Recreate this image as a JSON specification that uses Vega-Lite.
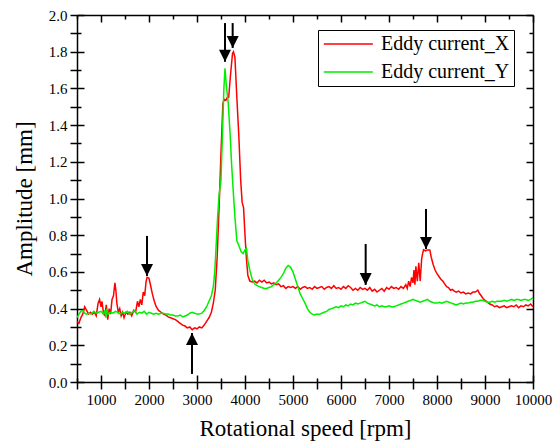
{
"$schema": "https://vega.github.io/schema/vega-lite/v6.json",
"width": 456, "height": 367,
"autosize": {"type": "none"},
"padding": {"left": 77, "top": 15, "right": 21, "bottom": 62},
"background": "white",
"config": {
 "view": {"stroke": null},
 "font": "Liberation Serif",
 "axis": {"grid": false, "domainColor": "black", "domainWidth": 1.5, "tickColor": "black", "tickWidth": 1.5, "labelColor": "black", "titleColor": "black", "labelFont": "Liberation Serif", "titleFont": "Liberation Serif", "labelFontSize": 15, "titleFontSize": 23, "titleFontWeight": "normal", "labelFlush": false, "labelOverlap": false, "gridColor": "black", "gridOpacity": 1, "gridWidth": 1.5},
 "legend": {"orient": "none", "legendX": 241, "legendY": 15, "strokeColor": "black", "strokeWidth": 1, "fillColor": "white", "padding": 4, "rowPadding": 8, "symbolType": "M-1,0L5,0", "symbolSize": 267, "symbolStrokeWidth": 1.5, "labelFont": "Liberation Serif", "labelFontSize": 20, "labelColor": "black", "labelOffset": 39, "labelLimit": 0}
},
"datasets": {
 "ex": [
{"rpm":500,"amp":0.33},{"rpm":540,"amp":0.32},{"rpm":580,"amp":0.35},{"rpm":620,"amp":0.37},{"rpm":660,"amp":0.41},{"rpm":700,"amp":0.39},{"rpm":740,"amp":0.37},{"rpm":780,"amp":0.38},{"rpm":820,"amp":0.37},{"rpm":860,"amp":0.38},{"rpm":900,"amp":0.36},{"rpm":940,"amp":0.43},{"rpm":970,"amp":0.45},{"rpm":1000,"amp":0.41},{"rpm":1020,"amp":0.44},{"rpm":1050,"amp":0.38},{"rpm":1080,"amp":0.36},{"rpm":1110,"amp":0.42},{"rpm":1140,"amp":0.34},{"rpm":1170,"amp":0.40},{"rpm":1200,"amp":0.37},{"rpm":1230,"amp":0.45},{"rpm":1260,"amp":0.47},{"rpm":1290,"amp":0.54},{"rpm":1310,"amp":0.50},{"rpm":1330,"amp":0.43},{"rpm":1360,"amp":0.38},{"rpm":1390,"amp":0.40},{"rpm":1420,"amp":0.36},{"rpm":1450,"amp":0.38},{"rpm":1480,"amp":0.35},{"rpm":1520,"amp":0.38},{"rpm":1560,"amp":0.37},{"rpm":1600,"amp":0.38},{"rpm":1640,"amp":0.36},{"rpm":1680,"amp":0.39},{"rpm":1720,"amp":0.38},{"rpm":1760,"amp":0.44},{"rpm":1790,"amp":0.41},{"rpm":1820,"amp":0.45},{"rpm":1850,"amp":0.42},{"rpm":1880,"amp":0.49},{"rpm":1910,"amp":0.47},{"rpm":1940,"amp":0.55},{"rpm":1960,"amp":0.57},{"rpm":2000,"amp":0.565},{"rpm":2030,"amp":0.53},{"rpm":2070,"amp":0.48},{"rpm":2110,"amp":0.44},{"rpm":2150,"amp":0.41},{"rpm":2200,"amp":0.39},{"rpm":2250,"amp":0.38},{"rpm":2300,"amp":0.37},{"rpm":2350,"amp":0.365},{"rpm":2400,"amp":0.355},{"rpm":2450,"amp":0.35},{"rpm":2500,"amp":0.345},{"rpm":2550,"amp":0.34},{"rpm":2600,"amp":0.33},{"rpm":2650,"amp":0.32},{"rpm":2700,"amp":0.31},{"rpm":2750,"amp":0.305},{"rpm":2800,"amp":0.295},{"rpm":2850,"amp":0.30},{"rpm":2900,"amp":0.285},{"rpm":2950,"amp":0.295},{"rpm":3000,"amp":0.29},{"rpm":3050,"amp":0.30},{"rpm":3100,"amp":0.295},{"rpm":3150,"amp":0.31},{"rpm":3200,"amp":0.33},{"rpm":3250,"amp":0.35},{"rpm":3300,"amp":0.38},{"rpm":3340,"amp":0.43},{"rpm":3380,"amp":0.50},{"rpm":3420,"amp":0.68},{"rpm":3460,"amp":0.95},{"rpm":3500,"amp":1.25},{"rpm":3540,"amp":1.52},{"rpm":3570,"amp":1.54},{"rpm":3600,"amp":1.535},{"rpm":3630,"amp":1.55},{"rpm":3660,"amp":1.55},{"rpm":3700,"amp":1.68},{"rpm":3740,"amp":1.79},{"rpm":3760,"amp":1.80},{"rpm":3790,"amp":1.77},{"rpm":3830,"amp":1.55},{"rpm":3870,"amp":1.35},{"rpm":3910,"amp":1.10},{"rpm":3940,"amp":0.98},{"rpm":3970,"amp":0.95},{"rpm":4000,"amp":0.80},{"rpm":4030,"amp":0.67},{"rpm":4060,"amp":0.58},{"rpm":4100,"amp":0.55},{"rpm":4150,"amp":0.545},{"rpm":4200,"amp":0.55},{"rpm":4250,"amp":0.54},{"rpm":4300,"amp":0.555},{"rpm":4350,"amp":0.545},{"rpm":4400,"amp":0.555},{"rpm":4450,"amp":0.54},{"rpm":4500,"amp":0.545},{"rpm":4550,"amp":0.535},{"rpm":4600,"amp":0.54},{"rpm":4650,"amp":0.53},{"rpm":4700,"amp":0.535},{"rpm":4750,"amp":0.52},{"rpm":4800,"amp":0.525},{"rpm":4850,"amp":0.51},{"rpm":4900,"amp":0.52},{"rpm":4950,"amp":0.515},{"rpm":5000,"amp":0.52},{"rpm":5050,"amp":0.51},{"rpm":5100,"amp":0.52},{"rpm":5150,"amp":0.505},{"rpm":5200,"amp":0.515},{"rpm":5250,"amp":0.52},{"rpm":5300,"amp":0.51},{"rpm":5350,"amp":0.515},{"rpm":5400,"amp":0.505},{"rpm":5450,"amp":0.52},{"rpm":5500,"amp":0.51},{"rpm":5550,"amp":0.515},{"rpm":5600,"amp":0.52},{"rpm":5650,"amp":0.505},{"rpm":5700,"amp":0.515},{"rpm":5750,"amp":0.52},{"rpm":5800,"amp":0.51},{"rpm":5850,"amp":0.525},{"rpm":5900,"amp":0.51},{"rpm":5950,"amp":0.515},{"rpm":6000,"amp":0.505},{"rpm":6050,"amp":0.52},{"rpm":6100,"amp":0.51},{"rpm":6150,"amp":0.525},{"rpm":6200,"amp":0.515},{"rpm":6250,"amp":0.50},{"rpm":6300,"amp":0.51},{"rpm":6350,"amp":0.50},{"rpm":6400,"amp":0.515},{"rpm":6450,"amp":0.505},{"rpm":6500,"amp":0.51},{"rpm":6550,"amp":0.50},{"rpm":6600,"amp":0.515},{"rpm":6650,"amp":0.495},{"rpm":6700,"amp":0.505},{"rpm":6750,"amp":0.49},{"rpm":6800,"amp":0.50},{"rpm":6850,"amp":0.51},{"rpm":6900,"amp":0.495},{"rpm":6950,"amp":0.515},{"rpm":7000,"amp":0.505},{"rpm":7050,"amp":0.52},{"rpm":7100,"amp":0.51},{"rpm":7150,"amp":0.515},{"rpm":7200,"amp":0.505},{"rpm":7250,"amp":0.52},{"rpm":7300,"amp":0.51},{"rpm":7350,"amp":0.53},{"rpm":7380,"amp":0.51},{"rpm":7410,"amp":0.55},{"rpm":7440,"amp":0.52},{"rpm":7470,"amp":0.57},{"rpm":7500,"amp":0.54},{"rpm":7520,"amp":0.61},{"rpm":7540,"amp":0.53},{"rpm":7560,"amp":0.63},{"rpm":7590,"amp":0.55},{"rpm":7620,"amp":0.65},{"rpm":7650,"amp":0.55},{"rpm":7680,"amp":0.67},{"rpm":7700,"amp":0.70},{"rpm":7720,"amp":0.72},{"rpm":7760,"amp":0.715},{"rpm":7800,"amp":0.72},{"rpm":7850,"amp":0.72},{"rpm":7880,"amp":0.68},{"rpm":7920,"amp":0.64},{"rpm":7960,"amp":0.61},{"rpm":8000,"amp":0.59},{"rpm":8040,"amp":0.575},{"rpm":8080,"amp":0.56},{"rpm":8120,"amp":0.55},{"rpm":8160,"amp":0.535},{"rpm":8200,"amp":0.52},{"rpm":8240,"amp":0.515},{"rpm":8280,"amp":0.50},{"rpm":8320,"amp":0.505},{"rpm":8360,"amp":0.495},{"rpm":8400,"amp":0.49},{"rpm":8450,"amp":0.495},{"rpm":8500,"amp":0.485},{"rpm":8550,"amp":0.49},{"rpm":8600,"amp":0.48},{"rpm":8650,"amp":0.485},{"rpm":8700,"amp":0.48},{"rpm":8750,"amp":0.49},{"rpm":8800,"amp":0.49},{"rpm":8850,"amp":0.50},{"rpm":8880,"amp":0.485},{"rpm":8920,"amp":0.47},{"rpm":8960,"amp":0.455},{"rpm":9000,"amp":0.445},{"rpm":9050,"amp":0.435},{"rpm":9100,"amp":0.425},{"rpm":9150,"amp":0.42},{"rpm":9200,"amp":0.41},{"rpm":9250,"amp":0.415},{"rpm":9300,"amp":0.405},{"rpm":9350,"amp":0.41},{"rpm":9400,"amp":0.415},{"rpm":9450,"amp":0.405},{"rpm":9500,"amp":0.41},{"rpm":9550,"amp":0.415},{"rpm":9600,"amp":0.41},{"rpm":9650,"amp":0.42},{"rpm":9700,"amp":0.405},{"rpm":9750,"amp":0.415},{"rpm":9800,"amp":0.41},{"rpm":9850,"amp":0.42},{"rpm":9900,"amp":0.415},{"rpm":9950,"amp":0.425},{"rpm":10000,"amp":0.41}
 ],
 "ey": [
{"rpm":500,"amp":0.35},{"rpm":540,"amp":0.37},{"rpm":580,"amp":0.385},{"rpm":620,"amp":0.39},{"rpm":660,"amp":0.375},{"rpm":700,"amp":0.37},{"rpm":750,"amp":0.375},{"rpm":800,"amp":0.37},{"rpm":850,"amp":0.385},{"rpm":900,"amp":0.375},{"rpm":950,"amp":0.38},{"rpm":1000,"amp":0.385},{"rpm":1050,"amp":0.37},{"rpm":1080,"amp":0.39},{"rpm":1100,"amp":0.35},{"rpm":1120,"amp":0.40},{"rpm":1150,"amp":0.37},{"rpm":1200,"amp":0.38},{"rpm":1250,"amp":0.375},{"rpm":1300,"amp":0.385},{"rpm":1350,"amp":0.38},{"rpm":1400,"amp":0.37},{"rpm":1450,"amp":0.38},{"rpm":1500,"amp":0.375},{"rpm":1550,"amp":0.385},{"rpm":1600,"amp":0.37},{"rpm":1650,"amp":0.38},{"rpm":1700,"amp":0.39},{"rpm":1750,"amp":0.37},{"rpm":1800,"amp":0.38},{"rpm":1850,"amp":0.375},{"rpm":1900,"amp":0.385},{"rpm":1950,"amp":0.37},{"rpm":2000,"amp":0.38},{"rpm":2050,"amp":0.375},{"rpm":2100,"amp":0.37},{"rpm":2150,"amp":0.375},{"rpm":2200,"amp":0.37},{"rpm":2250,"amp":0.375},{"rpm":2300,"amp":0.375},{"rpm":2350,"amp":0.37},{"rpm":2400,"amp":0.37},{"rpm":2450,"amp":0.365},{"rpm":2500,"amp":0.365},{"rpm":2550,"amp":0.36},{"rpm":2600,"amp":0.36},{"rpm":2650,"amp":0.365},{"rpm":2700,"amp":0.355},{"rpm":2750,"amp":0.36},{"rpm":2800,"amp":0.365},{"rpm":2850,"amp":0.375},{"rpm":2900,"amp":0.38},{"rpm":2950,"amp":0.375},{"rpm":3000,"amp":0.37},{"rpm":3050,"amp":0.37},{"rpm":3100,"amp":0.375},{"rpm":3150,"amp":0.39},{"rpm":3200,"amp":0.41},{"rpm":3250,"amp":0.44},{"rpm":3300,"amp":0.47},{"rpm":3340,"amp":0.52},{"rpm":3370,"amp":0.60},{"rpm":3400,"amp":0.75},{"rpm":3430,"amp":0.90},{"rpm":3460,"amp":1.02},{"rpm":3500,"amp":1.10},{"rpm":3530,"amp":1.35},{"rpm":3560,"amp":1.60},{"rpm":3583,"amp":1.71},{"rpm":3610,"amp":1.62},{"rpm":3650,"amp":1.52},{"rpm":3690,"amp":1.35},{"rpm":3720,"amp":1.19},{"rpm":3760,"amp":1.02},{"rpm":3790,"amp":0.90},{"rpm":3830,"amp":0.77},{"rpm":3870,"amp":0.745},{"rpm":3920,"amp":0.71},{"rpm":3960,"amp":0.70},{"rpm":4000,"amp":0.72},{"rpm":4030,"amp":0.73},{"rpm":4060,"amp":0.66},{"rpm":4100,"amp":0.61},{"rpm":4150,"amp":0.56},{"rpm":4200,"amp":0.535},{"rpm":4250,"amp":0.525},{"rpm":4300,"amp":0.52},{"rpm":4350,"amp":0.515},{"rpm":4400,"amp":0.51},{"rpm":4450,"amp":0.51},{"rpm":4500,"amp":0.515},{"rpm":4550,"amp":0.52},{"rpm":4600,"amp":0.53},{"rpm":4650,"amp":0.54},{"rpm":4700,"amp":0.555},{"rpm":4750,"amp":0.57},{"rpm":4800,"amp":0.59},{"rpm":4850,"amp":0.62},{"rpm":4900,"amp":0.635},{"rpm":4950,"amp":0.625},{"rpm":5000,"amp":0.60},{"rpm":5050,"amp":0.56},{"rpm":5100,"amp":0.52},{"rpm":5150,"amp":0.48},{"rpm":5200,"amp":0.455},{"rpm":5250,"amp":0.43},{"rpm":5300,"amp":0.40},{"rpm":5350,"amp":0.38},{"rpm":5400,"amp":0.37},{"rpm":5450,"amp":0.365},{"rpm":5500,"amp":0.37},{"rpm":5550,"amp":0.368},{"rpm":5600,"amp":0.375},{"rpm":5650,"amp":0.38},{"rpm":5700,"amp":0.385},{"rpm":5750,"amp":0.395},{"rpm":5800,"amp":0.40},{"rpm":5850,"amp":0.405},{"rpm":5900,"amp":0.41},{"rpm":5950,"amp":0.405},{"rpm":6000,"amp":0.415},{"rpm":6050,"amp":0.41},{"rpm":6100,"amp":0.42},{"rpm":6150,"amp":0.415},{"rpm":6200,"amp":0.425},{"rpm":6250,"amp":0.42},{"rpm":6300,"amp":0.43},{"rpm":6350,"amp":0.425},{"rpm":6400,"amp":0.43},{"rpm":6450,"amp":0.435},{"rpm":6500,"amp":0.44},{"rpm":6550,"amp":0.43},{"rpm":6600,"amp":0.425},{"rpm":6650,"amp":0.42},{"rpm":6700,"amp":0.415},{"rpm":6750,"amp":0.42},{"rpm":6800,"amp":0.41},{"rpm":6850,"amp":0.415},{"rpm":6900,"amp":0.41},{"rpm":6950,"amp":0.41},{"rpm":7000,"amp":0.415},{"rpm":7050,"amp":0.41},{"rpm":7100,"amp":0.41},{"rpm":7150,"amp":0.415},{"rpm":7200,"amp":0.42},{"rpm":7250,"amp":0.425},{"rpm":7300,"amp":0.43},{"rpm":7350,"amp":0.435},{"rpm":7400,"amp":0.44},{"rpm":7450,"amp":0.445},{"rpm":7500,"amp":0.45},{"rpm":7550,"amp":0.445},{"rpm":7600,"amp":0.44},{"rpm":7650,"amp":0.435},{"rpm":7700,"amp":0.44},{"rpm":7750,"amp":0.445},{"rpm":7800,"amp":0.45},{"rpm":7850,"amp":0.44},{"rpm":7900,"amp":0.435},{"rpm":7950,"amp":0.43},{"rpm":8000,"amp":0.43},{"rpm":8050,"amp":0.435},{"rpm":8100,"amp":0.43},{"rpm":8150,"amp":0.435},{"rpm":8200,"amp":0.44},{"rpm":8250,"amp":0.435},{"rpm":8300,"amp":0.43},{"rpm":8350,"amp":0.425},{"rpm":8400,"amp":0.42},{"rpm":8450,"amp":0.425},{"rpm":8500,"amp":0.43},{"rpm":8550,"amp":0.425},{"rpm":8600,"amp":0.43},{"rpm":8650,"amp":0.43},{"rpm":8700,"amp":0.435},{"rpm":8750,"amp":0.435},{"rpm":8800,"amp":0.44},{"rpm":8850,"amp":0.44},{"rpm":8900,"amp":0.445},{"rpm":8950,"amp":0.445},{"rpm":9000,"amp":0.44},{"rpm":9050,"amp":0.435},{"rpm":9100,"amp":0.435},{"rpm":9150,"amp":0.44},{"rpm":9200,"amp":0.435},{"rpm":9250,"amp":0.44},{"rpm":9300,"amp":0.44},{"rpm":9350,"amp":0.44},{"rpm":9400,"amp":0.445},{"rpm":9450,"amp":0.44},{"rpm":9500,"amp":0.445},{"rpm":9550,"amp":0.45},{"rpm":9600,"amp":0.445},{"rpm":9650,"amp":0.45},{"rpm":9700,"amp":0.45},{"rpm":9750,"amp":0.445},{"rpm":9800,"amp":0.45},{"rpm":9850,"amp":0.45},{"rpm":9900,"amp":0.445},{"rpm":9950,"amp":0.45},{"rpm":10000,"amp":0.46}
 ],
 "arrows": [
  {"rpm":3583,"tail":1.956,"tip":1.745,"dir":"down"},
  {"rpm":3743,"tail":1.956,"tip":1.82,"dir":"down"},
  {"rpm":1958,"tail":0.796,"tip":0.578,"dir":"down"},
  {"rpm":2896,"tail":0.044,"tip":0.267,"dir":"up"},
  {"rpm":6514,"tail":0.752,"tip":0.529,"dir":"down"},
  {"rpm":7771,"tail":0.943,"tip":0.725,"dir":"down"}
 ]
},
"layer": [
 {
  "data": {"name": "ex"},
  "mark": {"type": "line", "strokeWidth": 1.5},
  "encoding": {
   "x": {"field": "rpm", "type": "quantitative", "scale": {"domain": [500, 10000], "nice": false, "zero": false},
    "axis": {"orient": "bottom", "title": "Rotational speed [rpm]", "format": "d", "ticks": true,
     "values": [500,1000,1500,2000,2500,3000,3500,4000,4500,5000,5500,6000,6500,7000,7500,8000,8500,9000,9500,10000],
     "labelExpr": "datum.value % 1000 === 0 ? datum.label : ''",
     "tickSize": 7, "labelPadding": 3, "titlePadding": 10,
     "grid": true,
     "gridDash": {"condition": {"test": "datum.value % 1000 === 0", "value": [7, 353, 7, 1000]}, "value": [4, 359, 4, 1000]}}},
   "y": {"field": "amp", "type": "quantitative", "scale": {"domain": [0, 2], "nice": false, "zero": false},
    "axis": {"orient": "left", "title": "Amplitude [mm]", "ticks": true,
     "values": [0,0.1,0.2,0.3,0.4,0.5,0.6,0.7,0.8,0.9,1.0,1.1,1.2,1.3,1.4,1.5,1.6,1.7,1.8,1.9,2.0],
     "labelExpr": "round(datum.value*10) % 2 === 0 ? format(datum.value, '.1f') : ''",
     "tickSize": 7, "labelPadding": 3, "titlePadding": 12,
     "grid": true,
     "gridDash": {"condition": {"test": "round(datum.value*10) % 2 === 0", "value": [7, 442, 7, 1000]}, "value": [4, 448, 4, 1000]}}},
   "color": {"datum": "Eddy current_X", "type": "nominal",
    "scale": {"domain": ["Eddy current_X", "Eddy current_Y"], "range": ["#ff0000", "#00ee00"]},
    "legend": {"title": null}}
  }
 },
 {
  "data": {"name": "ey"},
  "mark": {"type": "line", "strokeWidth": 1.5},
  "encoding": {
   "x": {"field": "rpm", "type": "quantitative",
    "axis": {"orient": "top", "title": null, "labels": false, "ticks": false}},
   "y": {"field": "amp", "type": "quantitative",
    "axis": {"orient": "right", "title": null, "labels": false, "ticks": false}},
   "color": {"datum": "Eddy current_Y", "type": "nominal"}
  }
 },
 {
  "data": {"name": "arrows"},
  "mark": {"type": "rule", "color": "black", "strokeWidth": 2},
  "encoding": {
   "x": {"field": "rpm", "type": "quantitative", "axis": null},
   "y": {"field": "tail", "type": "quantitative", "axis": null},
   "y2": {"field": "tip"}
  }
 },
 {
  "data": {"name": "arrows"},
  "mark": {"type": "point", "filled": true, "color": "black", "opacity": 1, "size": 144, "strokeWidth": 0},
  "encoding": {
   "x": {"field": "rpm", "type": "quantitative", "axis": null},
   "y": {"field": "tip", "type": "quantitative", "axis": null},
   "shape": {"field": "dir", "type": "nominal", "legend": null,
    "scale": {"domain": ["down", "up"], "range": ["M-1,-2L1,-2L0,0Z", "M-1,2L1,2L0,0Z"]}}
  }
 }
],
"resolve": {"axis": {"x": "independent", "y": "independent"}}
}
